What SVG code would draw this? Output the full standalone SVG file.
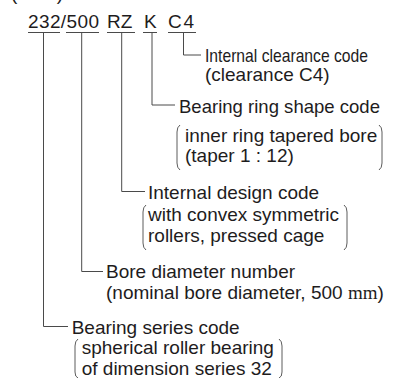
<svg xmlns="http://www.w3.org/2000/svg" width="393" height="378" viewBox="0 0 393 378">
<style>
text{font-family:"Liberation Sans",Arial,sans-serif;font-size:19px;fill:#1e1c1d}
.ln{stroke:#4a4a4a;stroke-width:1;fill:none}
.br{stroke:#4a4a4a;stroke-width:0.9;fill:none}
.mm{font-family:"Liberation Serif","Times New Roman",serif}
</style>
<rect width="393" height="378" fill="#ffffff"/>
<g id="header">
<text x="11" y="0" textLength="52" lengthAdjust="spacing">(Ex.)</text>
</g>
<g id="code">
<text x="28" y="28" textLength="71" lengthAdjust="spacing">232/500</text>
<text x="107" y="28">RZ</text>
<text x="144" y="28">K</text>
<text x="168" y="28">C</text>
<text x="183.5" y="28">4</text>
</g>
<g id="connectors">
<path class="ln" d="M28 32.5H60M66 32.5H99M107 32.5H135M143 32.5H157M168 32.5H196"/>
<path class="ln" d="M183.5 32.5V55H201"/>
<path class="ln" d="M152 32.5V105H175"/>
<path class="ln" d="M121.7 32.5V191.5H145"/>
<path class="ln" d="M81.7 32.5V271.5H103"/>
<path class="ln" d="M43.5 32.5V326.5H68"/>
</g>
<g id="node-clearance">
<text x="205" y="62" textLength="163" lengthAdjust="spacingAndGlyphs">Internal clearance code</text>
<text x="205" y="81">(clearance C4)</text>
</g>
<g id="node-ring-shape">
<text x="179" y="112.5" textLength="201" lengthAdjust="spacingAndGlyphs">Bearing ring shape code</text>
<path class="br" d="M180 125Q177 127 177 132V163Q177 168 180 170"/>
<text x="185" y="141.5">inner ring tapered bore</text>
<text x="185" y="161.5">(taper 1 : 12)</text>
<path class="br" d="M379 125Q382 127 382 132V163Q382 168 379 170"/>
</g>
<g id="node-design">
<text x="148" y="199">Internal design code</text>
<path class="br" d="M146 205Q143 207 143 212V243Q143 248 146 250"/>
<text x="148" y="221">with convex symmetric</text>
<text x="148" y="241.5">rollers, pressed cage</text>
<path class="br" d="M344 205Q347 207 347 212V243Q347 248 344 250"/>
</g>
<g id="node-bore">
<text x="106" y="278">Bore diameter number</text>
<text x="106" y="299">(nominal bore diameter, 500 <tspan class="mm">mm</tspan>)</text>
</g>
<g id="node-series">
<text x="71.7" y="333.5">Bearing series code</text>
<path class="br" d="M78 339Q75 341 75 346V372Q75 377 78 378"/>
<text x="81.7" y="354">spherical roller bearing</text>
<text x="81.7" y="374.5">of dimension series 32</text>
<path class="br" d="M279 339Q282 341 282 346V372Q282 377 279 378"/>
</g>
</svg>
